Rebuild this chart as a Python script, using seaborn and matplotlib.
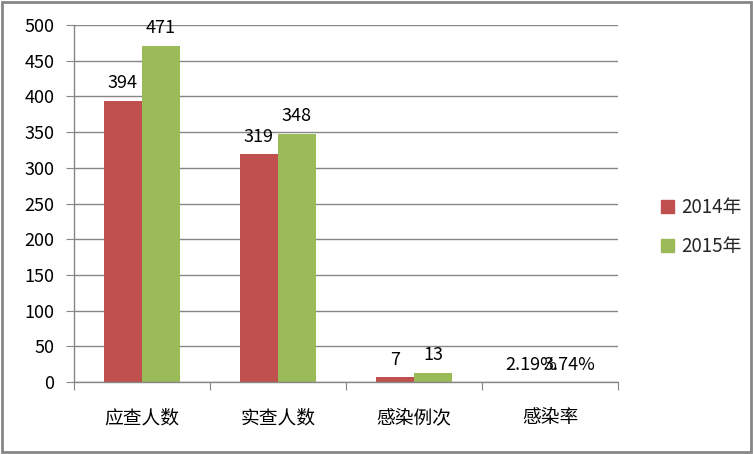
import pandas as pd
import numpy as np
import matplotlib
matplotlib.use('Agg')
import matplotlib.pyplot as plt
import seaborn as sns
from matplotlib.patches import Rectangle

# data
categories = ['应查人数', '实查人数', '感染例次', '感染率']
years = ['2014年', '2015年']
vals_2014 = [394, 319, 7, 0.0219]
vals_2015 = [471, 348, 13, 0.0374]
labels_2014 = ['394', '319', '7', '2.19%']
labels_2015 = ['471', '348', '13', '3.74%']
yticks = [0, 50, 100, 150, 200, 250, 300, 350, 400, 450, 500]

df = pd.DataFrame({
    'cat': categories * 2,
    'year': [years[0]] * 4 + [years[1]] * 4,
    'val': vals_2014 + vals_2015,
})

sns.set_style('white')
plt.rcParams['font.family'] = ['Noto Sans CJK SC', 'DejaVu Sans']

grey = '#868686'
fig = plt.figure(figsize=(7.53, 4.54), dpi=100)
ax = fig.add_axes([0.0983, 0.1586, 0.7224, 0.7863])

sns.barplot(data=df, x='cat', y='val', hue='year', order=categories,
            palette=['#C0504D', '#9BBB59'], width=0.56, gap=0, ax=ax,
            saturation=1, legend=False, errorbar=None, linewidth=0)

for cont, labs in zip(ax.containers, [labels_2014, labels_2015]):
    ax.bar_label(cont, labels=labs, padding=6, fontsize=13, color='black')

ax.set_xlim(-0.5, 3.5)
ax.set_ylim(0, 500)
ax.set_yticks(yticks)
ax.tick_params(axis='y', labelsize=13, length=6, color=grey, pad=8, direction='out',
               left=True, labelcolor='black')
ax.set_xticks(np.arange(-0.5, 4, 1))
ax.set_xticklabels([])
ax.set_xticks(range(4), minor=True)
ax.set_xticklabels(categories, minor=True, fontsize=13.5)
ax.tick_params(axis='x', which='major', length=6, color=grey, direction='out', bottom=True)
ax.tick_params(axis='x', which='minor', length=0, pad=18, labelcolor='black')
ax.grid(axis='y', color=grey, linewidth=1)
ax.set_axisbelow(True)
for s in ['top', 'right']:
    ax.spines[s].set_visible(False)
for s in ['left', 'bottom']:
    ax.spines[s].set_color(grey)
    ax.spines[s].set_linewidth(1)
ax.set_xlabel('')
ax.set_ylabel('')

handles = [Rectangle((0, 0), 1, 1, color=c) for c in ['#C0504D', '#9BBB59']]
fig.legend(handles, years, loc='center left', bbox_to_anchor=(0.855, 0.5),
           frameon=False, fontsize=13.5, handlelength=0.7, handleheight=0.7,
           handletextpad=0.4, labelspacing=1.0)

fig.patches.append(Rectangle((0.003, 0.004), 0.994, 0.992, transform=fig.transFigure,
                             fill=False, edgecolor=grey, linewidth=2))

fig.savefig('out.png', dpi=100)
